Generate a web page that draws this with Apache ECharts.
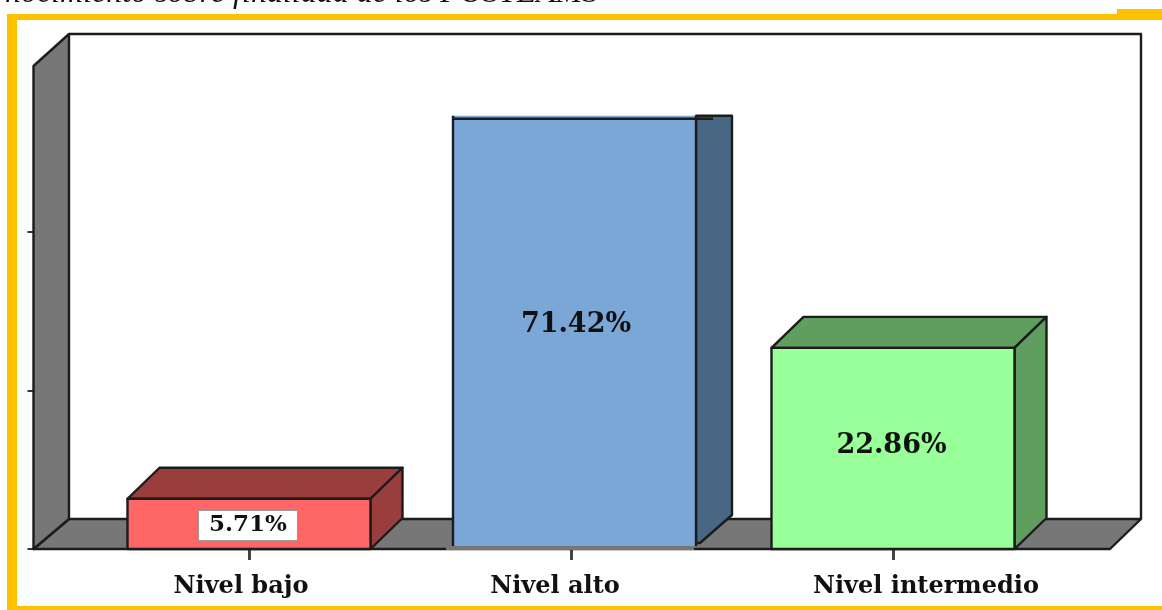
<!DOCTYPE html>
<html><head><meta charset="utf-8">
<script src="https://cdn.jsdelivr.net/npm/echarts@6/dist/echarts.min.js"></script>
<style>html,body{margin:0;padding:0;background:#fff;overflow:hidden}#c{width:1162px;height:610px;filter:blur(0.5px)}</style>
</head><body><div id="c"></div>
<script>
const categories = ['Nivel bajo', 'Nivel alto', 'Nivel intermedio'];
const percentValues = [5.71, 71.42, 22.86];
const yTickValues = [0, 18, 36];
const yMax = 55;
const drawnCap = 49;            // the tall bar is cut off in the source picture
const frontColors = ['#FF6666', '#7BA7D6', '#99FF99'];
const sideColors = ['#993D3D', '#486785', '#5F9E5F'];

const INK = '#1c1c1c', GREY = '#777777', GOLD = '#FFC000';
const SERIF = '"DejaVu Serif", serif';
const barW = 243, dx = 32, dy = 31;
const xNudge = [0, 3.5, 0], labelLift = [-1.5, 8, 2.5], labelShift = [-1, 1.5, -1.5], labelSize = [23, 27, 27];
const stroke = {stroke: INK, lineWidth: 2.4, lineJoin: 'round'};
const poly = (points, fill, extra) => ({type: 'polygon', shape: {points},
  style: Object.assign({fill}, stroke, extra || {})});

function renderBar(params, api) {
  const i = api.value(0), v = api.value(1);
  const clipped = v > drawnCap;
  const base = api.coord([i, 0]);
  const top = api.coord([i, Math.min(v, drawnCap)]);
  const l = base[0] - barW / 2 + xNudge[i], r = l + barW, b = base[1], t = top[1];
  const kids = [];
  if (clipped) {
    const d = 36;
    kids.push({type: 'polygon', shape: {points: [[r, t - 2], [r + d, t - 2], [r + d, b - 34], [r + 4, b - 6], [r, b - 6]]},
      style: Object.assign({fill: sideColors[i]}, stroke)});
    kids.push({type: 'rect', shape: {x: l, y: t - 2, width: barW, height: b - t + 2 - 3},
      style: {fill: frontColors[i]}});
    kids.push({type: 'line', shape: {x1: l, y1: t - 2, x2: l, y2: b - 3}, style: stroke});
    kids.push({type: 'line', shape: {x1: r, y1: t - 2, x2: r, y2: b - 3}, style: stroke});
    kids.push({type: 'line', shape: {x1: l, y1: t + 1, x2: r + 17, y2: t + 1}, style: stroke});
    kids.push({type: 'rect', shape: {x: l - 7, y: b - 3, width: barW + 5, height: 4}, style: {fill: GREY}});
  } else {
    kids.push(poly([[l, t], [l + dx, t - dy], [r + dx, t - dy], [r, t]], sideColors[i]));
    kids.push(poly([[r, t], [r + dx, t - dy], [r + dx, b - dy], [r, b]], sideColors[i]));
    kids.push({type: 'rect', shape: {x: l, y: t, width: barW, height: b - t},
      style: Object.assign({fill: frontColors[i]}, stroke)});
  }
  const cy = (t + b) / 2 - labelLift[i];
  const boxed = i === 0;
  kids.push({type: 'text', z2: 5, style: {
    x: (l + r) / 2 + labelShift[i], y: cy, text: v.toFixed(2) + '%',
    font: 'bold ' + labelSize[i] + 'px ' + SERIF, fill: '#111', align: 'center', verticalAlign: 'middle',
    backgroundColor: boxed ? '#fff' : 'transparent',
    padding: boxed ? [3, 10, 3, 10] : 0,
    borderColor: boxed ? '#999' : 'transparent', borderWidth: boxed ? 1 : 0
  }});
  return {type: 'group', children: kids};
}

const gridL = 88, gridT = 65, gridW = 966, gridH = 484, frontL = 33.5, frontR = 1110, floorY = 549;
const axisText = {fontFamily: SERIF, fontWeight: 'bold', fontSize: 24, color: '#111'};
const chart = echarts.init(document.getElementById('c'), null, {renderer: 'canvas'});
chart.setOption({
  animation: false,
  backgroundColor: '#fff',
  grid: {left: gridL, top: gridT, width: gridW, height: gridH},
  xAxis: {
    type: 'category', data: categories,
    axisLine: {show: false},
    axisTick: {show: true, alignWithLabel: true, length: 11, lineStyle: {color: '#444', width: 3}},
    axisLabel: {
      margin: 26, interval: 0,
      formatter: (v, i) => '{s' + i + '|' + v + '}',
      rich: {
        s0: Object.assign({padding: [0, 16, 0, 0]}, axisText),
        s1: Object.assign({padding: [0, 32, 0, 0]}, axisText),
        s2: Object.assign({padding: [0, 0, 0, 66]}, axisText)
      }
    }
  },
  yAxis: {
    type: 'value', min: 0, max: yMax, position: 'left', offset: gridL - frontL,
    axisLine: {show: false}, splitLine: {show: false}, axisLabel: {show: false},
    axisTick: {show: true, customValues: yTickValues, length: 6, lineStyle: {color: '#333', width: 2}}
  },
  graphic: {elements: [
    {type: 'text', z: 1, style: {x: 5, y: -22, text: 'nocimiento sobre finalidad de los POSTEAMS',
      font: 'italic 32px "Liberation Serif", serif', fill: '#111'}},
    {type: 'rect', z: 1, shape: {x: 7, y: 14, width: 1155, height: 6}, style: {fill: GOLD}},
    {type: 'rect', z: 1, shape: {x: 1117, y: 9, width: 45, height: 11}, style: {fill: GOLD}},
    {type: 'rect', z: 1, shape: {x: 7, y: 14, width: 10, height: 596}, style: {fill: GOLD}},
    {type: 'rect', z: 1, shape: {x: 7, y: 606, width: 1155, height: 4}, style: {fill: GOLD}},
    {type: 'polygon', z: 1, shape: {points: [[frontL, floorY], [69, 519], [1141, 519], [frontR, floorY]]},
      style: Object.assign({fill: GREY}, stroke)},
    {type: 'polygon', z: 1, shape: {points: [[frontL, 66], [69, 34], [69, 519], [frontL, floorY]]},
      style: Object.assign({fill: GREY}, stroke)},
    {type: 'polyline', z: 1, shape: {points: [[69, 34], [1141, 34], [1141, 519]]},
      style: Object.assign({fill: 'none'}, stroke)}
  ]},
  series: [{
    type: 'custom', coordinateSystem: 'cartesian2d', clip: false,
    renderItem: renderBar, encode: {x: 0, y: 1},
    data: percentValues.map((v, i) => [i, v])
  }]
});
</script></body></html>
